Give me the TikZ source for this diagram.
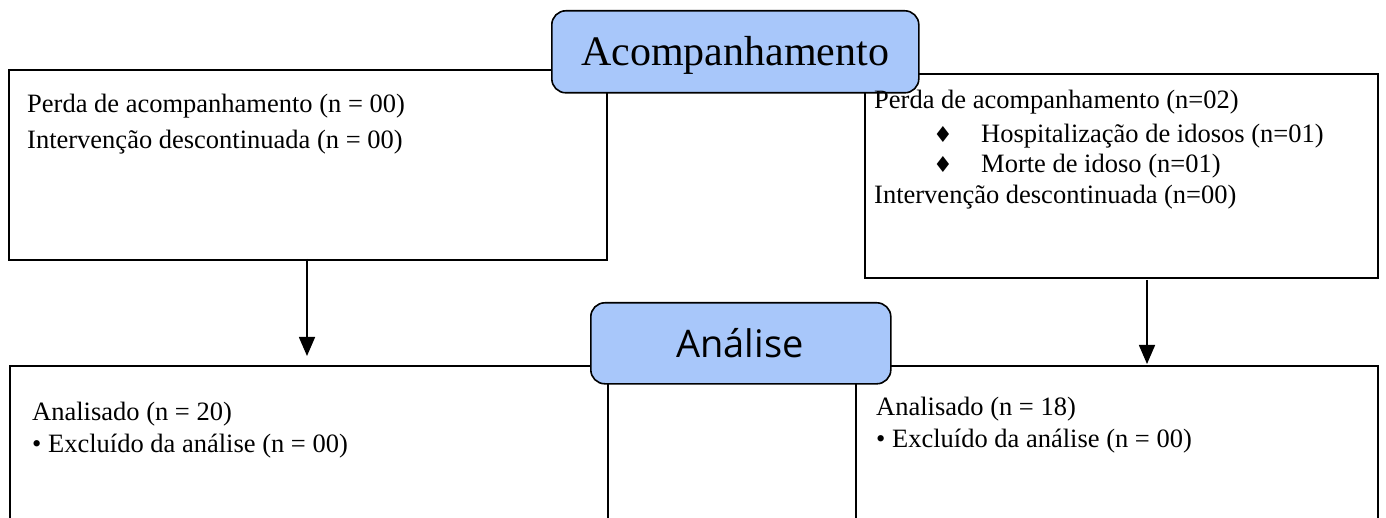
\documentclass[tikz,border=0pt]{standalone}
\usepackage{fontspec}
\setmainfont{Liberation Serif}
\newfontfamily\tabfont{Open Sans}
\newfontfamily\symfont{DejaVu Sans}
\usetikzlibrary{arrows.meta}
\definecolor{tabblue}{RGB}{168,199,250}
\tikzset{
  box/.style={draw=black, line width=1.6pt, fill=white, rectangle, inner sep=0pt, anchor=north west},
  tab/.style={draw=black, line width=1.6pt, fill=tabblue, rectangle, rounded corners=14pt, inner sep=0pt, anchor=north west},
  txt/.style={anchor=base west, inner sep=0pt, font=\fontsize{26.5}{30}\selectfont},
  dia/.style={anchor=base, inner sep=0pt, font=\symfont\fontsize{22}{24}\selectfont},
  arr/.style={line width=1.6pt, -{Triangle[length=19pt,width=16pt]}}
}
\begin{document}
\begin{tikzpicture}[x=1pt,y=-1pt]
\useasboundingbox (0,0) rectangle (1386,518);
\clip (0,0) rectangle (1386,518);
% top boxes
\node[box, minimum width=598pt, minimum height=190pt] (tl) at (8,69) {};
\node[box, minimum width=513pt, minimum height=204pt] (tr) at (864,73) {};
% bottom boxes
\node[box, minimum width=598pt, minimum height=180pt] (bl) at (9,365) {};
\node[box, minimum width=522pt, minimum height=180pt] (br) at (855,365) {};
% tabs
\node[tab, minimum width=367pt, minimum height=82pt] (acomp) at (551,10) {};
\node[font=\fontsize{42}{46}\selectfont, anchor=base, inner sep=0pt] (acompt) at (735,66) {Acompanhamento};
\node[tab, minimum width=300pt, minimum height=81pt] (anal) at (590,302) {};
\node[font=\tabfont\fontsize{38}{42}\selectfont, anchor=base, inner sep=0pt] (analt) at (740,357) {Análise};
% texts top left
\node[txt] (t1) at (27,113) {Perda de acompanhamento (n = 00)};
\node[txt] (t2) at (27,149) {Intervenção descontinuada (n = 00)};
% texts top right
\node[txt] (r1) at (874,109) {Perda de acompanhamento (n=02)};
\node[dia] (d1) at (943,143) {♦};
\node[txt] (r2) at (981,143) {Hospitalização de idosos (n=01)};
\node[dia] (d2) at (943,173) {♦};
\node[txt] (r3) at (981,173) {Morte de idoso (n=01)};
\node[txt] (r4) at (874,204) {Intervenção descontinuada (n=00)};
% bottom texts
\node[txt] (b1) at (32,420) {Analisado (n = 20)};
\node[txt] (b2) at (32,452) {• Excluído da análise (n = 00)};
\node[txt] (c1) at (876,415) {Analisado (n = 18)};
\node[txt] (c2) at (876,447) {• Excluído da análise (n = 00)};
% arrows
\coordinate (a1s) at (307,259);
\coordinate (a1e) at (307,356);
\coordinate (a2s) at (1147,280);
\coordinate (a2e) at (1147,364);
\draw[arr] (a1s) -- (a1e);
\draw[arr] (a2s) -- (a2e);
\end{tikzpicture}
\end{document}
